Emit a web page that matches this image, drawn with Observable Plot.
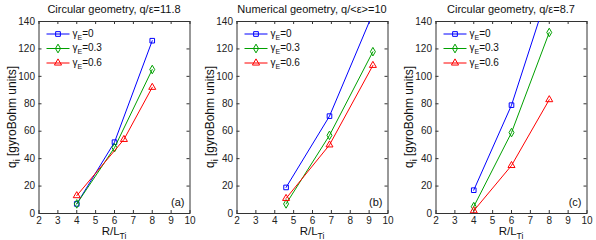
<!DOCTYPE html>
<html><head><meta charset="utf-8">
<script src="https://cdn.jsdelivr.net/npm/d3@7"></script>
<script src="https://cdn.jsdelivr.net/npm/@observablehq/plot@0.6"></script>
<style>
body{margin:0;background:#fff}
#c{position:relative;width:596px;height:240px;font-family:"Liberation Sans",Arial,sans-serif}
#c svg{position:absolute;top:0;overflow:visible}
</style>
</head><body><div id="c"></div>
<script>
// ---- data ----
const xTicks = [2, 3, 4, 5, 6, 7, 8, 9, 10];
const yTicks = [0, 20, 40, 60, 80, 100, 120, 140];
const titles = ["Circular geometry, q/\u03b5=11.8", "Numerical geometry, q/<\u03b5>=10", "Circular geometry, q/\u03b5=8.7"];
const panelLabels = ["(a)", "(b)", "(c)"];
const seriesValues = ["0", "0.3", "0.6"];
const seriesColors = ["#0000ff", "#00a000", "#ff0000"];
const seriesSymbols = ["square", "diamond", "triangle"];

const aX0 = [4, 6, 8],     aQ0 = [7, 52, 126];
const aX3 = [4, 6, 8],     aQ3 = [7, 48, 105];
const aX6 = [4, 6.5, 8],   aQ6 = [13, 54, 92];

const bX0 = [4.6, 6.9, 9.2], bQ0 = [19, 71, 146];
const bX3 = [4.6, 6.9, 9.2], bQ3 = [7, 57, 118];
const bX6 = [4.6, 6.9, 9.2], bQ6 = [11, 50, 108];

const cX0 = [4, 6, 8], cQ0 = [17, 79, 164];
const cX3 = [4, 6, 8], cQ3 = [5, 59, 132];
const cX6 = [4, 6, 8], cQ6 = [2, 35, 83];

const panels = [
  [[aX0, aQ0], [aX3, aQ3], [aX6, aQ6]],
  [[bX0, bQ0], [bX3, bQ3], [bX6, bQ6]],
  [[cX0, cQ0], [cX3, cQ3], [cX6, cQ6]]
];
const lefts = [0, 198, 397];

// ---- layout ----
const W = 198, H = 240, mL = 38.5, mR = 8.5, mT = 21, mB = 27;
const pw = W - mL - mR, ph = H - mT - mB;
const font = '"Liberation Sans",Arial,sans-serif';

const root = document.getElementById("c");

panels.forEach((series, pi) => {
  const rows = [];
  series.forEach(([xs, qs], si) => xs.forEach((x, k) => rows.push({x, q: qs[k], s: si})));
  const marks = [
    Plot.frame({stroke: "#333", strokeWidth: 1}),
    // inward ticks on all four sides
    Plot.tickX(xTicks, {x: d => d, insetTop: ph - 3, stroke: "#333"}),
    Plot.tickX(xTicks, {x: d => d, insetBottom: ph - 3, stroke: "#333"}),
    Plot.tickY(yTicks, {y: d => d, insetRight: pw - 3, stroke: "#333"}),
    Plot.tickY(yTicks, {y: d => d, insetLeft: pw - 3, stroke: "#333"}),
    Plot.axisX({ticks: xTicks, tickSize: 0, tickPadding: 3, fontSize: 10, label: null, fill: "#222"}),
    Plot.axisY({ticks: yTicks, tickSize: 0, tickPadding: 4, fontSize: 10, label: null, fill: "#222"})
  ];
  series.forEach((_, si) => {
    const d = rows.filter(r => r.s === si);
    marks.push(Plot.line(d, {x: "x", y: "q", stroke: seriesColors[si], strokeWidth: 1, clip: true}));
    marks.push(Plot.dot(d, {x: "x", y: "q", stroke: seriesColors[si], fill: "none", symbol: seriesSymbols[si], r: 2.6, strokeWidth: 1, clip: true}));
  });
  const svg = Plot.plot({
    width: W, height: H,
    marginLeft: mL, marginRight: mR, marginTop: mT, marginBottom: mB,
    x: {domain: [2, 10]},
    y: {domain: [0, 140]},
    style: {fontFamily: font, background: "transparent", overflow: "visible"},
    marks
  });
  svg.style.left = lefts[pi] + "px";
  root.appendChild(svg);

  const s = d3.select(svg);
  const cx = mL + pw / 2;
  // title
  s.append("text").attr("x", cx).attr("y", 13).attr("text-anchor", "middle")
    .attr("font-size", 11).attr("font-family", font).attr("fill", "#111").text(titles[pi]);
  // x label R/L_Ti
  const xl = s.append("text").attr("x", cx).attr("y", H - 5).attr("text-anchor", "middle")
    .attr("font-size", 11.5).attr("font-family", font).attr("fill", "#111");
  xl.append("tspan").text("R/L");
  xl.append("tspan").attr("dy", 3.5).attr("font-size", 8.5).text("Ti");
  // y label q_i [gyroBohm units]
  const yl = s.append("text").attr("transform", `translate(16,${mT + ph / 2}) rotate(-90)`)
    .attr("text-anchor", "middle").attr("font-size", 12).attr("font-family", font).attr("fill", "#111");
  yl.append("tspan").text("q");
  yl.append("tspan").attr("dy", 4).attr("font-size", 9).text("i");
  yl.append("tspan").attr("dy", -4).text(" [gyroBohm units]");
  // panel label
  s.append("text").attr("x", mL + pw - 5).attr("y", mT + ph - 7).attr("text-anchor", "end")
    .attr("font-size", 11).attr("font-family", font).attr("fill", "#111").text(panelLabels[pi]);
  // legend
  const legY = [33.5, 48, 62.5];
  const sym = [d3.symbolSquare, d3.symbolDiamond, d3.symbolTriangle];
  seriesValues.forEach((v, si) => {
    const y = legY[si];
    const g = s.append("g");
    g.append("line").attr("x1", mL + 8).attr("x2", mL + 31).attr("y1", y + 0.5).attr("y2", y + 0.5)
      .attr("stroke", seriesColors[si]).attr("stroke-width", 1);
    g.append("path").attr("transform", `translate(${mL + 19.5},${y + 0.5})`)
      .attr("d", d3.symbol(sym[si], 22)()).attr("fill", "none").attr("stroke", seriesColors[si]);
    const t = g.append("text").attr("x", mL + 34).attr("y", y + 3).attr("font-size", 10)
      .attr("text-anchor", "start").attr("font-family", font).attr("fill", "#111");
    t.append("tspan").text("\u03b3");
    t.append("tspan").attr("dy", 3).attr("font-size", 7).text("E");
    t.append("tspan").attr("dy", -3).text("=" + v);
  });
});
</script>
</body></html>
